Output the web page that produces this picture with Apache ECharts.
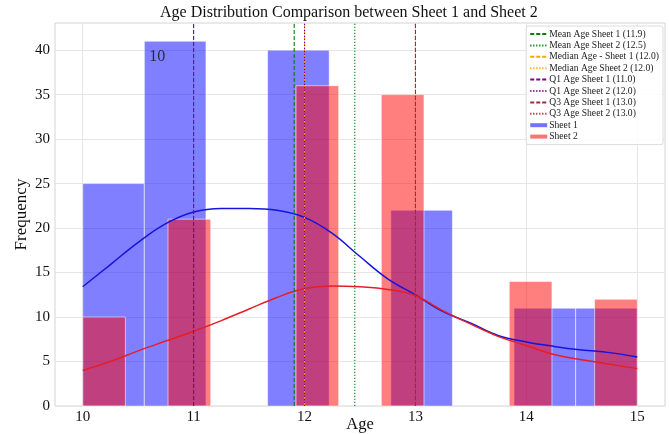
<!DOCTYPE html>
<html>
<head>
<meta charset="utf-8">
<script src="https://cdn.jsdelivr.net/npm/echarts@6/dist/echarts.min.js"></script>
<style>
  html, body { margin: 0; padding: 0; background: #fff; }
  #chart { width: 669px; height: 434px; }
</style>
</head>
<body>
<div id="chart"></div>
<script>
// Age counts for each sheet
const ages = [10, 11, 12, 13, 14, 15];
const sheet1Counts = [25, 41, 40, 22, 11, 11];
const sheet2Counts = [10, 21, 36, 35, 14, 12];

// Number of histogram bins over the age range
const sheet1BinCount = 9;
const sheet2BinCount = 13;

// Kernel density curves (scaled to counts)
const kdeAges = [10, 10.25, 10.5, 10.75, 11, 11.25, 11.5, 11.75, 12, 12.25, 12.5, 12.75, 13, 13.25, 13.5, 13.75, 14, 14.25, 14.5, 14.75, 15];
const sheet1Kde = [13.4, 15.9, 18.4, 20.5, 21.8, 22.2, 22.2, 22.0, 21.2, 19.4, 16.8, 14.3, 12.5, 10.6, 9.3, 7.9, 7.2, 6.7, 6.3, 6.0, 5.5];
const sheet2Kde = [4.0, 5.0, 6.2, 7.3, 8.4, 9.6, 10.9, 12.2, 13.2, 13.5, 13.4, 13.1, 12.4, 10.7, 9.2, 7.8, 6.8, 5.8, 5.2, 4.7, 4.2];

// Summary statistics drawn as vertical reference lines
const statLabels = ['Mean Age Sheet 1', 'Mean Age Sheet 2', 'Median Age - Sheet 1', 'Median Age Sheet 2',
                    'Q1 Age Sheet 1', 'Q1 Age Sheet 2', 'Q3 Age Sheet 1', 'Q3 Age Sheet 2'];
const medianQuartiles = [12, 12, 11, 12, 13, 13];
const statColors = ['#008000', '#008000', '#ffa500', '#ffa500', '#800080', '#800080', '#a52a2a', '#a52a2a'];

// Axis ticks
const xTicks = [10, 11, 12, 13, 14, 15];
const yTicks = [0, 5, 10, 15, 20, 25, 30, 35, 40];

// Free text annotation
const noteText = '10';
const notePos = [10.6, 39.3];

const X_MIN = 9.75, X_MAX = 15.25, Y_MAX = 43.05;
const SERIF = '"Liberation Serif", "DejaVu Serif", serif';

function weightedMean(vals, w) {
  let s = 0, n = 0;
  vals.forEach((v, i) => { s += v * w[i]; n += w[i]; });
  return s / n;
}
const statValues = [weightedMean(ages, sheet1Counts), weightedMean(ages, sheet2Counts)].concat(medianQuartiles);

function binData(counts, nBins) {
  const lo = ages[0], hi = ages[ages.length - 1];
  const w = (hi - lo) / nBins;
  const bins = new Array(nBins).fill(0);
  ages.forEach((a, i) => {
    const k = Math.min(nBins - 1, Math.floor((a - lo) / w + 1e-9));
    bins[k] += counts[i];
  });
  return bins.map((c, k) => [lo + k * w, lo + (k + 1) * w, c]).filter(d => d[2] > 0);
}

function histSeries(name, data, fill) {
  return {
    name: name,
    type: 'custom',
    data: data,
    encode: { x: [0, 1], y: 2 },
    itemStyle: { color: fill },
    renderItem: function (params, api) {
      const p0 = api.coord([api.value(0), api.value(2)]);
      const p1 = api.coord([api.value(1), 0]);
      return {
        type: 'rect',
        shape: { x: p0[0], y: p0[1], width: p1[0] - p0[0], height: p1[1] - p0[1] },
        style: { fill: fill, stroke: 'rgba(255,255,255,0.55)', lineWidth: 1 }
      };
    },
    z: 2
  };
}

const series = [
  histSeries('Sheet 1', binData(sheet1Counts, sheet1BinCount), 'rgba(0,0,255,0.5)'),
  histSeries('Sheet 2', binData(sheet2Counts, sheet2BinCount), 'rgba(255,0,0,0.5)'),
  {
    name: 'kde1', type: 'line', smooth: 0.4, symbol: 'none', z: 4,
    data: kdeAges.map((a, i) => [a, sheet1Kde[i]]),
    lineStyle: { color: '#1414dc', width: 1.5 }
  },
  {
    name: 'kde2', type: 'line', smooth: 0.4, symbol: 'none', z: 4,
    data: kdeAges.map((a, i) => [a, sheet2Kde[i]]),
    lineStyle: { color: '#e61e28', width: 1.5 }
  }
];

statLabels.forEach((lab, i) => {
  const v = statValues[i];
  series.push({
    name: lab + ' (' + v.toFixed(1) + ')',
    type: 'line', symbol: 'none', z: 5,
    data: [[v, 0], [v, Y_MAX]],
    itemStyle: { color: statColors[i] },
    lineStyle: { color: statColors[i], width: 1.1, type: i % 2 === 0 ? [4, 2] : [1.2, 1.8] }
  });
});

series.push({
  name: 'note', type: 'scatter', symbolSize: 0, z: 6,
  data: [notePos],
  label: {
    show: true, formatter: noteText, position: [0, 0], align: 'left', verticalAlign: 'middle',
    color: '#111', fontFamily: SERIF, fontSize: 16
  }
});

const barIcon = 'path://M0,0L0,0M0,3L17,3L17,7L0,7ZM17,10L17,10';
const legendData = statLabels.map((lab, i) => ({
    name: lab + ' (' + statValues[i].toFixed(1) + ')',
    itemStyle: { opacity: 0 }
  }))
  .concat([
    { name: 'Sheet 1', icon: barIcon, itemStyle: { color: 'rgba(0,0,255,0.55)' } },
    { name: 'Sheet 2', icon: barIcon, itemStyle: { color: 'rgba(255,0,0,0.55)' } }
  ]);

const chart = echarts.init(document.getElementById('chart'), null, { renderer: 'canvas' });
chart.setOption({
  animation: false,
  backgroundColor: '#ffffff',
  textStyle: { fontFamily: SERIF },
  grid: {
    left: 55, right: 4, top: 23, bottom: 28,
    outerBoundsMode: 'none', containLabel: false,
    show: true, borderColor: '#d4d4d4', borderWidth: 1, backgroundColor: 'transparent'
  },
  graphic: [{
    type: 'text', left: 360 - 200, top: 5,
    style: {
      text: 'Age Distribution Comparison between Sheet 1 and Sheet 2',
      font: '16px ' + SERIF, fill: '#111', width: 400, align: 'center'
    }
  }],
  legend: {
    orient: 'vertical', right: 6, top: 26,
    data: legendData,
    itemWidth: 17, itemHeight: 10, itemGap: 1.4,
    padding: [3, 4, 3, 3],
    borderColor: '#dcdcdc', borderWidth: 1, borderRadius: 2,
    backgroundColor: 'rgba(255,255,255,0.85)',
    textStyle: { fontFamily: SERIF, fontSize: 9.6, color: '#222', padding: [0, 0, 0, -3] },
    selectedMode: false
  },
  xAxis: {
    type: 'value', min: X_MIN, max: X_MAX,
    name: 'Age', nameLocation: 'middle', nameGap: 10, nameMoveOverlap: false,
    nameTextStyle: { fontFamily: SERIF, fontSize: 16.5, color: '#111' },
    axisLine: { show: false },
    axisTick: { show: false, customValues: xTicks },
    axisLabel: { customValues: xTicks, fontFamily: SERIF, fontSize: 15, color: '#111', margin: 4 },
    splitLine: { show: true, lineStyle: { color: '#e6e6e6', width: 1 } }
  },
  yAxis: {
    type: 'value', min: 0, max: Y_MAX,
    name: 'Frequency', nameLocation: 'middle', nameGap: 25, nameMoveOverlap: false,
    nameTextStyle: { fontFamily: SERIF, fontSize: 17, color: '#111' },
    axisLine: { show: false },
    axisTick: { show: false, customValues: yTicks },
    axisLabel: { customValues: yTicks, fontFamily: SERIF, fontSize: 15, color: '#111', margin: 5 },
    splitLine: { show: true, lineStyle: { color: '#e6e6e6', width: 1 } }
  },
  series: series
});
</script>
</body>
</html>
